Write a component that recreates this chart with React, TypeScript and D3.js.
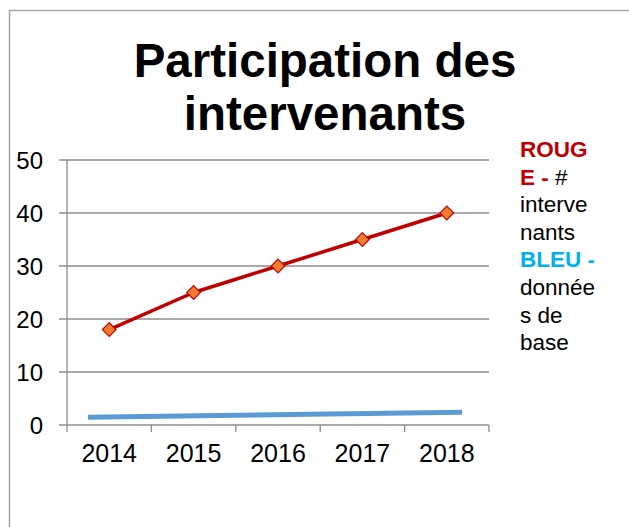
import React from 'react';
import * as d3 from 'd3';

// chart data
const years = ['2014', '2015', '2016', '2017', '2018'];
const intervenants = [18, 25, 30, 35, 40];
// blue baseline line, positions given in year-index units
const baseIndex = [-0.25, 4.18];
const baseValues = [1.45, 2.4];
const yTicks = [0, 10, 20, 30, 40, 50];
const titleLines = ['Participation des', 'intervenants'];

const W = 629;
const H = 527;
const plot = { left: 67, right: 489, top: 160, bottom: 425 };

export default function App() {
  const x = d3.scaleBand().domain(years).range([plot.left, plot.right]).padding(0);
  const xi = d3.scaleLinear().domain([-0.5, years.length - 0.5]).range([plot.left, plot.right]);
  const y = d3.scaleLinear().domain([0, 50]).range([plot.bottom, plot.top]);

  const redLine = d3.line<number>()
    .x((_, i) => (x(years[i]) as number) + x.bandwidth() / 2)
    .y(d => y(d))(intervenants) as string;

  const blueLine = d3.line<number>()
    .x((_, i) => xi(baseIndex[i]))
    .y(d => y(d))(baseValues) as string;

  const diamond = d3.symbol().type(d3.symbolDiamond2).size(120)() as string;
  const font = 'Liberation Sans, Arial, sans-serif';

  const legend: { parts: { t: string; c: string; b: boolean }[] }[] = [
    { parts: [{ t: 'ROUG', c: '#c00000', b: true }] },
    { parts: [{ t: 'E - ', c: '#c00000', b: true }, { t: '#', c: '#000', b: false }] },
    { parts: [{ t: 'interve', c: '#000', b: false }] },
    { parts: [{ t: 'nants', c: '#000', b: false }] },
    { parts: [{ t: 'BLEU -', c: '#00b0f0', b: true }] },
    { parts: [{ t: 'donnée', c: '#000', b: false }] },
    { parts: [{ t: 's de', c: '#000', b: false }] },
    { parts: [{ t: 'base', c: '#000', b: false }] },
  ];

  return (
    <svg width={W} height={H} style={{ position: 'absolute', left: 0, top: 0, background: '#fff' }}
      fontFamily={font}>
      {/* outer frame */}
      <rect x={9.5} y={10.5} width={W + 20} height={H + 20} fill="none" stroke="#a6a6a6" strokeWidth={1.5} />

      {titleLines.map((t, i) => (
        <text key={t} x={325} y={77 + i * 53} textAnchor="middle" fontSize={47.5} fontWeight="bold" fill="#000">{t}</text>
      ))}

      {/* gridlines + y ticks */}
      {yTicks.map(v => (
        <g key={v}>
          <line x1={plot.left - 8} x2={plot.right} y1={y(v)} y2={y(v)} stroke="#8c8c8c" strokeWidth={1.3} />
          <text x={43} y={y(v)} dy="0.36em" textAnchor="end" fontSize={24} fill="#000">{v}</text>
        </g>
      ))}
      <line x1={plot.left} x2={plot.left} y1={plot.top} y2={plot.bottom} stroke="#8c8c8c" strokeWidth={1.3} />

      {/* x ticks */}
      {[...years.map(d => x(d) as number), plot.right].map((px, i) => (
        <line key={i} x1={px} x2={px} y1={plot.bottom} y2={plot.bottom + 7} stroke="#8c8c8c" strokeWidth={1.3} />
      ))}
      {years.map(d => (
        <text key={d} x={(x(d) as number) + x.bandwidth() / 2} y={462} textAnchor="middle" fontSize={25} fill="#000">{d}</text>
      ))}

      <path d={blueLine} fill="none" stroke="#5b9bd5" strokeWidth={5} />
      <path d={redLine} fill="none" stroke="#c00000" strokeWidth={3.5} strokeLinejoin="round" />
      {intervenants.map((v, i) => (
        <path key={i} d={diamond}
          transform={`translate(${(x(years[i]) as number) + x.bandwidth() / 2},${y(v)})`}
          fill="#ed7d31" stroke="#c00000" strokeWidth={1.2} />
      ))}

      {legend.map((row, i) => (
        <text key={i} x={520} y={157 + i * 27.6} fontSize={22.5}>
          {row.parts.map((p, j) => (
            <tspan key={j} fill={p.c} fontWeight={p.b ? 'bold' : 'normal'}>{p.t}</tspan>
          ))}
        </text>
      ))}
    </svg>
  );
}
